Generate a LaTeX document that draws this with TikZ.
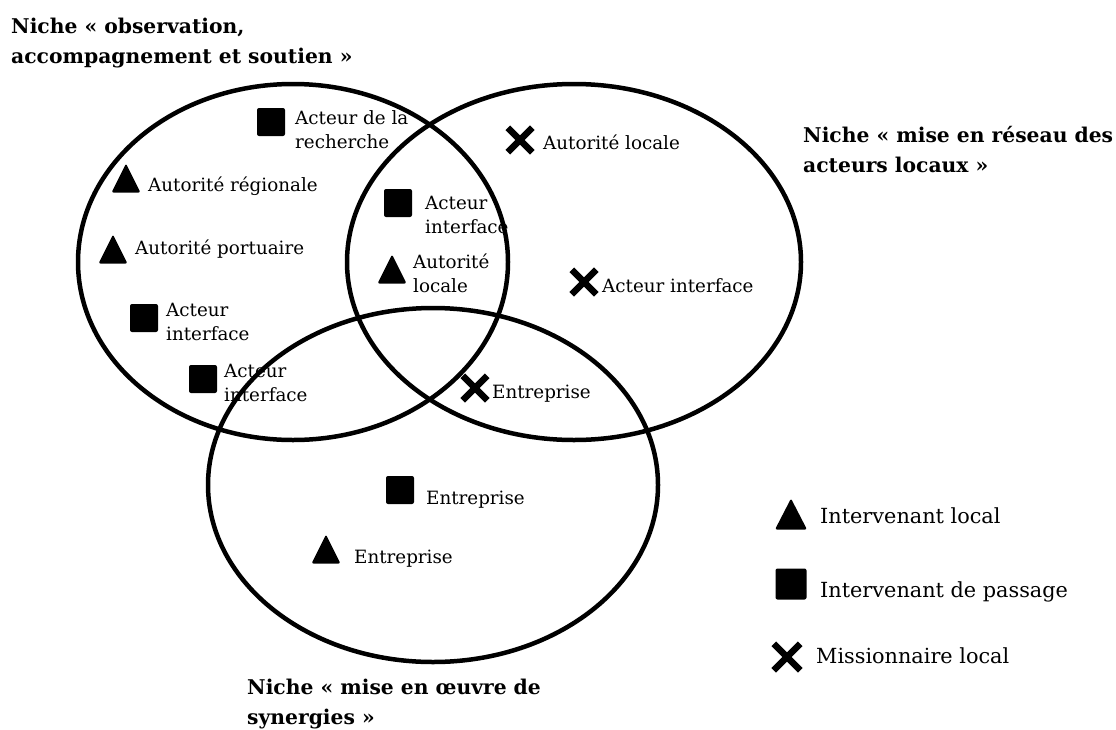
\documentclass[tikz,border=0pt]{standalone}
\usepackage{fontspec}
\setmainfont{DejaVu Serif}
\usetikzlibrary{shapes.misc}

\begin{document}
\begin{tikzpicture}[x=1pt,y=-1pt,
  venn/.style={line width=4.5pt},
  lbl/.style={anchor=base west,align=left,inner sep=0pt,font=\fontsize{18.3}{24}\selectfont},
  key/.style={anchor=base west,inner sep=0pt,font=\fontsize{20.8}{24}\selectfont},
  niche/.style={anchor=base west,align=left,inner sep=0pt,font=\bfseries\fontsize{20.3}{30}\selectfont},
  sq/.style={fill,rounded corners=2pt,minimum size=28pt,inner sep=0pt},
  tri/.style={minimum width=29pt,minimum height=29pt,inner sep=0pt,
    path picture={\fill[rounded corners=2pt] (path picture bounding box.south west)
      -- (path picture bounding box.south east) -- (path picture bounding box.north) -- cycle;}},
  crx/.style={cross out,draw,line width=6.5pt,minimum size=18pt,inner sep=0pt}]
\useasboundingbox (0,0) rectangle (1116,729);
% the three niches
\draw[venn] (293,262) ellipse [x radius=215pt,y radius=178pt];
\draw[venn] (574,262) ellipse [x radius=227pt,y radius=178pt];
\draw[venn] (433,485) ellipse [x radius=225pt,y radius=177pt];
\node[niche] (nobs) at (11,63) {Niche « observation,\\accompagnement et soutien »};
\node[niche] (nres) at (803,172) {Niche « mise en réseau des\\acteurs locaux »};
\node[niche] (nsyn) at (247,724) {Niche « mise en œuvre de\\synergies »};
% actors
\node[sq] (rech) at (271,122) {};
\node[lbl] (rech-t) at (295,148) {Acteur de la\\recherche};
\node[tri] (reg) at (126,178) {};
\node[lbl] (reg-t) at (148,191) {Autorité régionale};
\node[tri] (port) at (113,249) {};
\node[lbl] (port-t) at (135,254) {Autorité portuaire};
\node[sq] (intA) at (144,318) {};
\node[lbl] (intA-t) at (166,340) {Acteur\\interface};
\node[sq] (intB) at (203,379) {};
\node[lbl] (intB-t) at (224,401) {Acteur\\interface};
\node[sq] (intC) at (398,203) {};
\node[lbl] (intC-t) at (425,233) {Acteur\\interface};
\node[tri] (locA) at (392,269) {};
\node[lbl] (locA-t) at (413,292) {Autorité\\locale};
\node[crx] (locB) at (520,140) {};
\node[lbl] (locB-t) at (543,149) {Autorité locale};
\node[crx] (intD) at (584,282) {};
\node[lbl] (intD-t) at (602,292) {Acteur interface};
\node[crx] (entA) at (475,388) {};
\node[lbl] (entA-t) at (492,398) {Entreprise};
\node[sq] (entB) at (400,490) {};
\node[lbl] (entB-t) at (426,504) {Entreprise};
\node[tri] (entC) at (326,549) {};
\node[lbl] (entC-t) at (354,563) {Entreprise};
% legend
\node[tri,minimum width=32pt,minimum height=31pt] (kloc) at (791,514) {};
\node[key] (kloc-t) at (820,523) {Intervenant local};
\node[sq,minimum size=31pt] (kpas) at (791,584) {};
\node[key] (kpas-t) at (820,597) {Intervenant de passage};
\node[crx,minimum size=20pt] (kmis) at (787,657) {};
\node[key] (kmis-t) at (816,663) {Missionnaire local};
\end{tikzpicture}
\end{document}
